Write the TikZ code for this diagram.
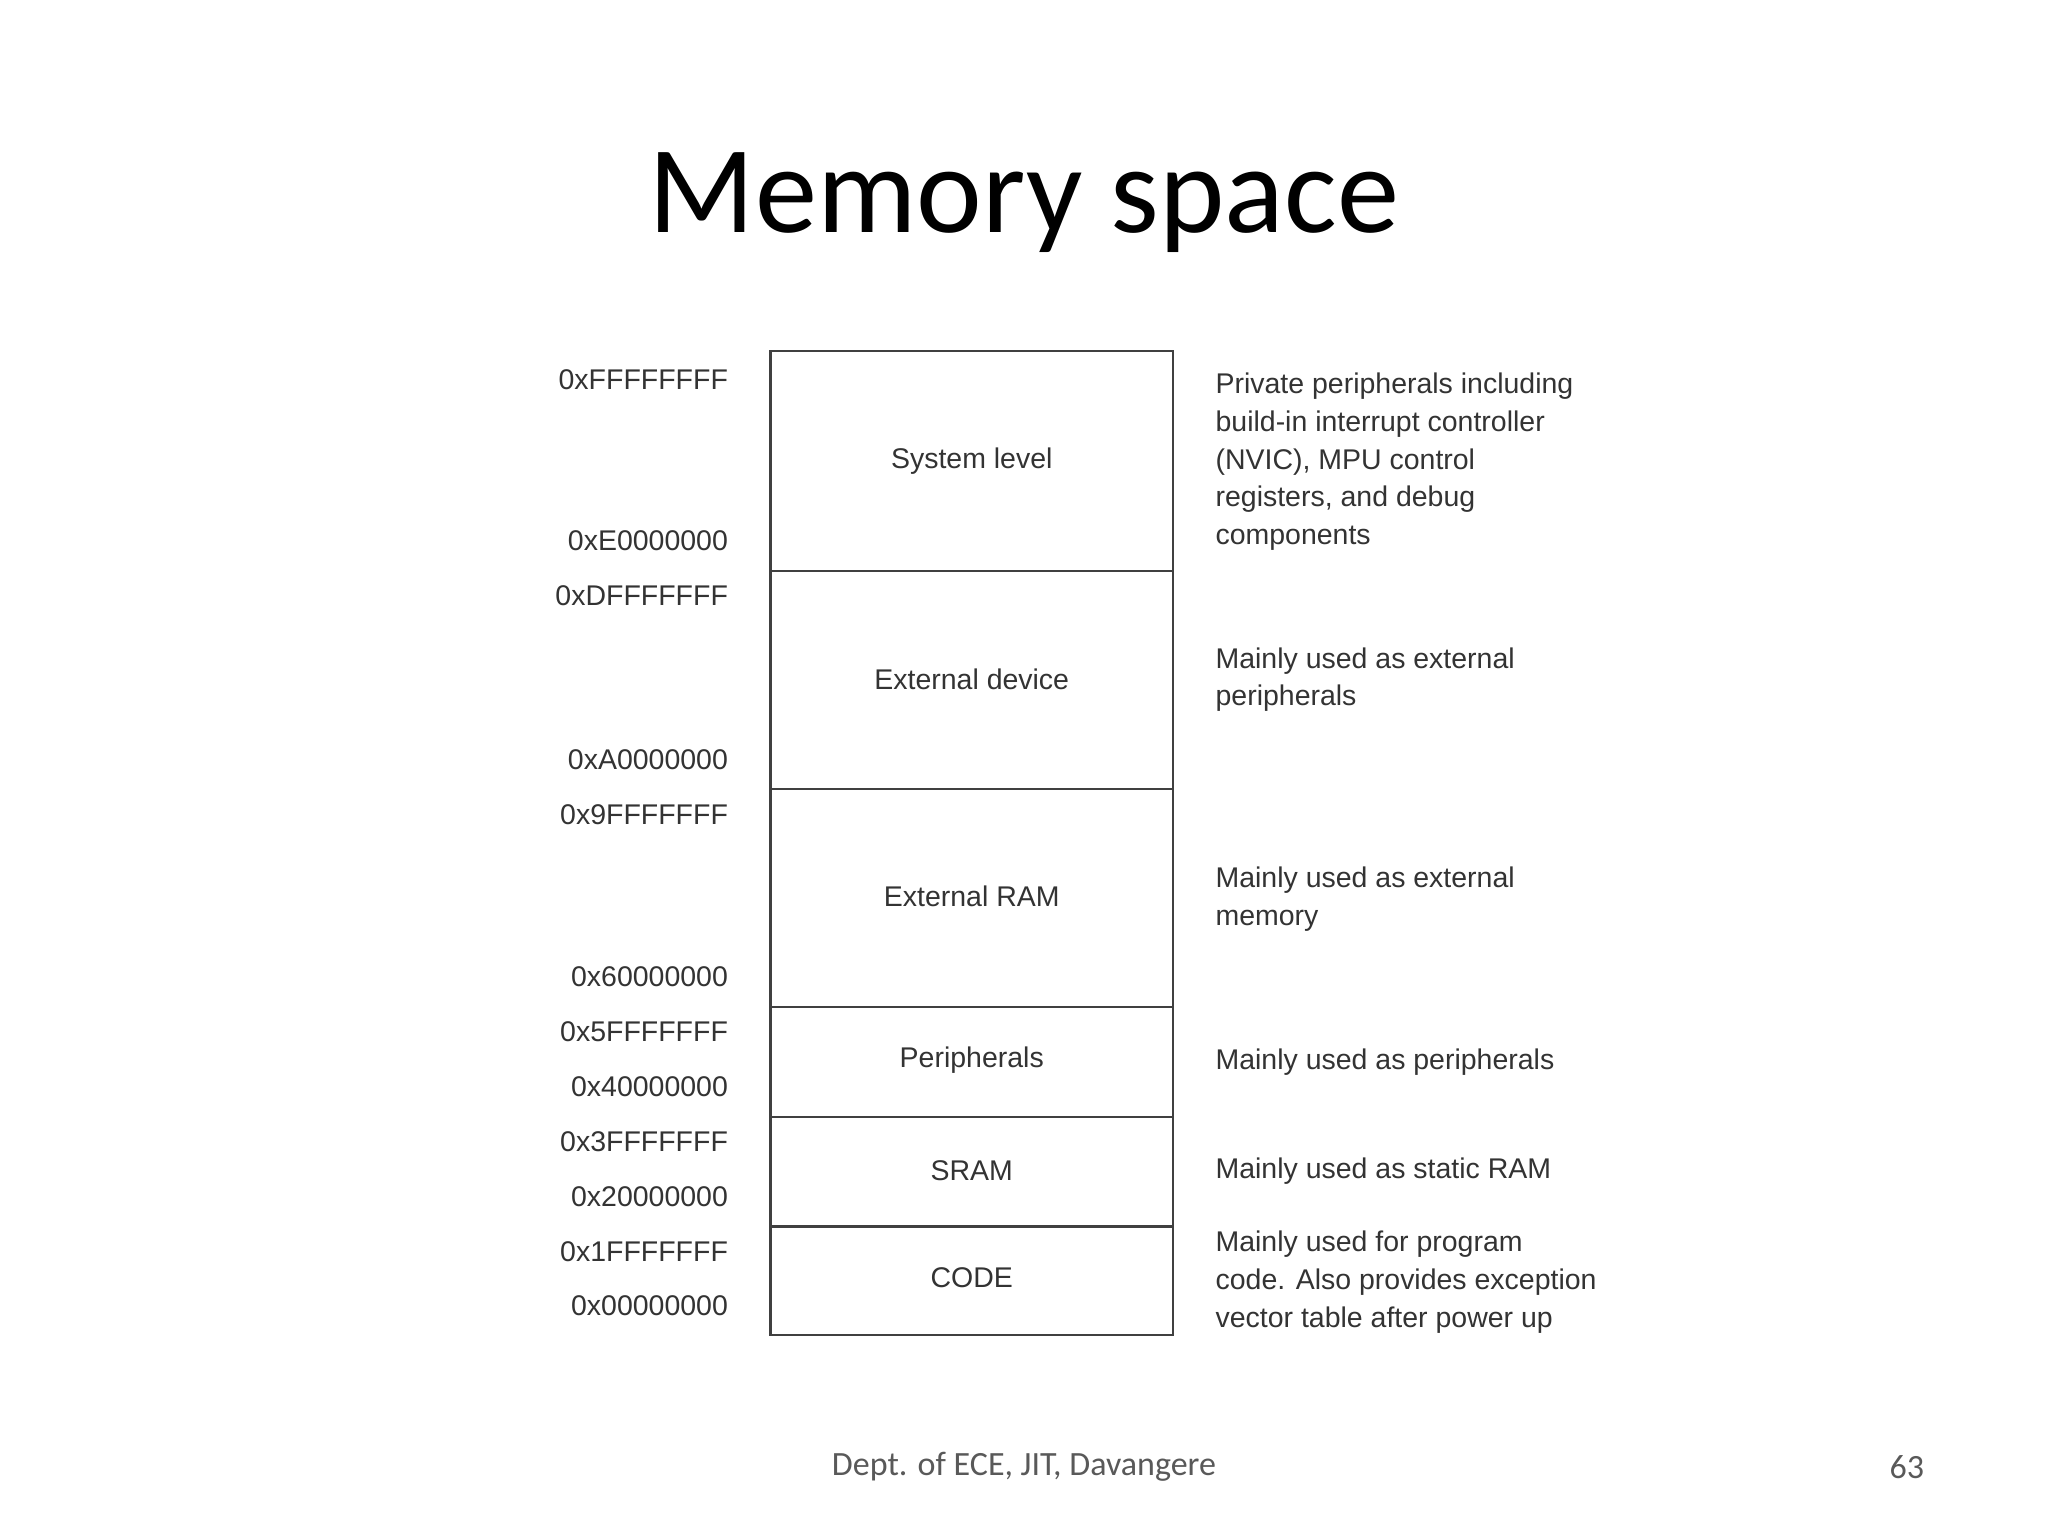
\documentclass[tikz,border=0pt]{standalone}
\usepackage{fontspec}
\setmainfont{Liberation Sans}
\newfontfamily\calfont{Carlito}
\begin{document}
\begin{tikzpicture}[x=0.01cm,y=-0.01cm,
  lbl/.style={font=\fontsize{6.2pt}{8.2pt}\selectfont,text=black!80,inner sep=0},
  addr/.style={lbl,anchor=east},
  desc/.style={lbl,anchor=north west,align=left},
  blk/.style={draw=black!75,line width=0.5pt}]
\useasboundingbox (0,0) rectangle (1568,1176);
\node[font=\calfont\fontsize{27.1pt}{30pt}\selectfont] (title) at (784,155) {Memory space};
\draw[blk] (590,269) rectangle (898,1022);
\foreach \y in {437,604,771,855,939} \draw[blk] (590,\y) -- (898,\y);
\node[lbl] (s) at (744,353) {System level};
\node[lbl] (e) at (744,520) {External device};
\node[lbl] (r) at (744,686) {External RAM};
\node[lbl] (p) at (744,812) {Peripherals};
\node[lbl] (m) at (744,896) {SRAM};
\node[lbl] (c) at (744,978) {CODE};
\foreach \y/\t in {291/0xFFFFFFFF,414/0xE0000000,456/0xDFFFFFFF,582/0xA0000000,624/0x9FFFFFFF,748/0x60000000,790/0x5FFFFFFF,832/0x40000000,874/0x3FFFFFFF,916/0x20000000,958/0x1FFFFFFF,1000/0x00000000}
  \node[addr] at (558,\y) {\t};
\node[desc] (d1) at (930,285) {Private peripherals including\\build-in interrupt controller\\(NVIC), MPU control\\registers, and debug\\components};
\node[desc] (d2) at (930,495) {Mainly used as external\\peripherals};
\node[desc] (d3) at (930,663) {Mainly used as external\\memory};
\node[desc] (d4) at (930,802) {Mainly used as peripherals};
\node[desc] (d5) at (930,886) {Mainly used as static RAM};
\node[desc] (d6) at (930,942) {Mainly used for program\\code. Also provides exception\\vector table after power up};
\node[font=\calfont\fontsize{7.4pt}{8pt}\selectfont,text=black!65] (f) at (784,1123) {Dept. of ECE, JIT, Davangere};
\node[font=\calfont\fontsize{7.4pt}{8pt}\selectfont,text=black!65] (n) at (1460,1123) {63};
\end{tikzpicture}
\end{document}
